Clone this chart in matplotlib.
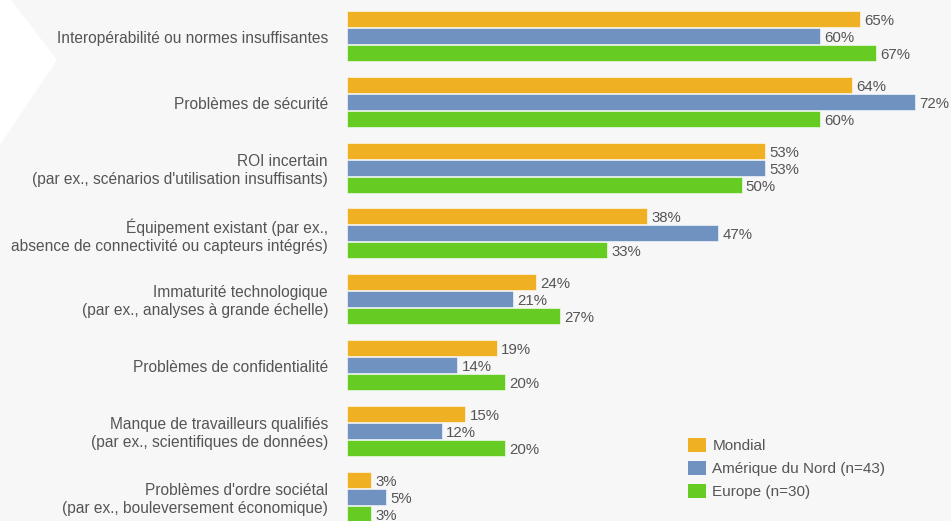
import numpy as np
import matplotlib.pyplot as plt
from matplotlib.patches import Polygon, Patch

categories = [
    "Interopérabilité ou normes insuffisantes",
    "Problèmes de sécurité",
    "ROI incertain\n(par ex., scénarios d'utilisation insuffisants)",
    "Équipement existant (par ex.,\nabsence de connectivité ou capteurs intégrés)",
    "Immaturité technologique\n(par ex., analyses à grande échelle)",
    "Problèmes de confidentialité",
    "Manque de travailleurs qualifiés\n(par ex., scientifiques de données)",
    "Problèmes d'ordre sociétal\n(par ex., bouleversement économique)",
]
mondial = [65, 64, 53, 38, 24, 19, 15, 3]
amerique = [60, 72, 53, 47, 21, 14, 12, 5]
europe = [67, 60, 50, 33, 27, 20, 20, 3]
series_names = ["Mondial", "Amérique du Nord (n=43)", "Europe (n=30)"]

colors = ["#f0b023", "#6f92c1", "#66cb22"]
text_col = "#555555"
bg = "#f7f7f7"

plt.rcParams['font.family'] = ['Liberation Sans', 'DejaVu Sans']

fig = plt.figure(figsize=(9.51, 5.21), dpi=100, facecolor=bg)

# white chevron on the left edge
fig.patches.append(Polygon([(0, 1), (0.012, 1), (0.06, 1 - 60 / 521), (0, 1 - 145 / 521)],
                           closed=True, transform=fig.transFigure,
                           facecolor="white", edgecolor="none", zorder=0))

ax = fig.add_axes([347 / 951, 0, 1 - 347 / 951, 1])
ax.set_facecolor("none")

y = np.arange(len(categories))
pitch = 0.258
h = 0.243
for j, (vals, c) in enumerate(zip([mondial, amerique, europe], colors)):
    pos = y + (j - 1) * pitch
    ax.barh(pos, vals, height=h, color=c, edgecolor="#ffffff", linewidth=0.4)
    for p, v in zip(pos, vals):
        ax.text(v + 0.55, p + 0.03, f"{v}%", va="center", ha="left",
                fontsize=10.8, color=text_col)

ax.set_xlim(0, 604 / 7.89)
ax.set_ylim(7.371, -0.547)
ax.axis("off")

for i, lab in enumerate(categories):
    fig.text(328 / 951, ax.transData.transform((0, i + 0.04))[1] / fig.dpi / 5.21,
             lab, ha="right", va="center", fontsize=11.2, color=text_col,
             linespacing=1.23, multialignment="right")

handles = [Patch(facecolor=c, edgecolor="none") for c in colors]
fig.legend(handles, series_names, loc="upper left",
           bbox_to_anchor=(688 / 951, 1 - 438 / 521), frameon=False,
           fontsize=11, labelcolor=text_col, handlelength=1.15,
           handleheight=1.0, handletextpad=0.45, labelspacing=0.52,
           borderpad=0, borderaxespad=0)

fig.savefig("out.png", dpi=100, facecolor=bg)
